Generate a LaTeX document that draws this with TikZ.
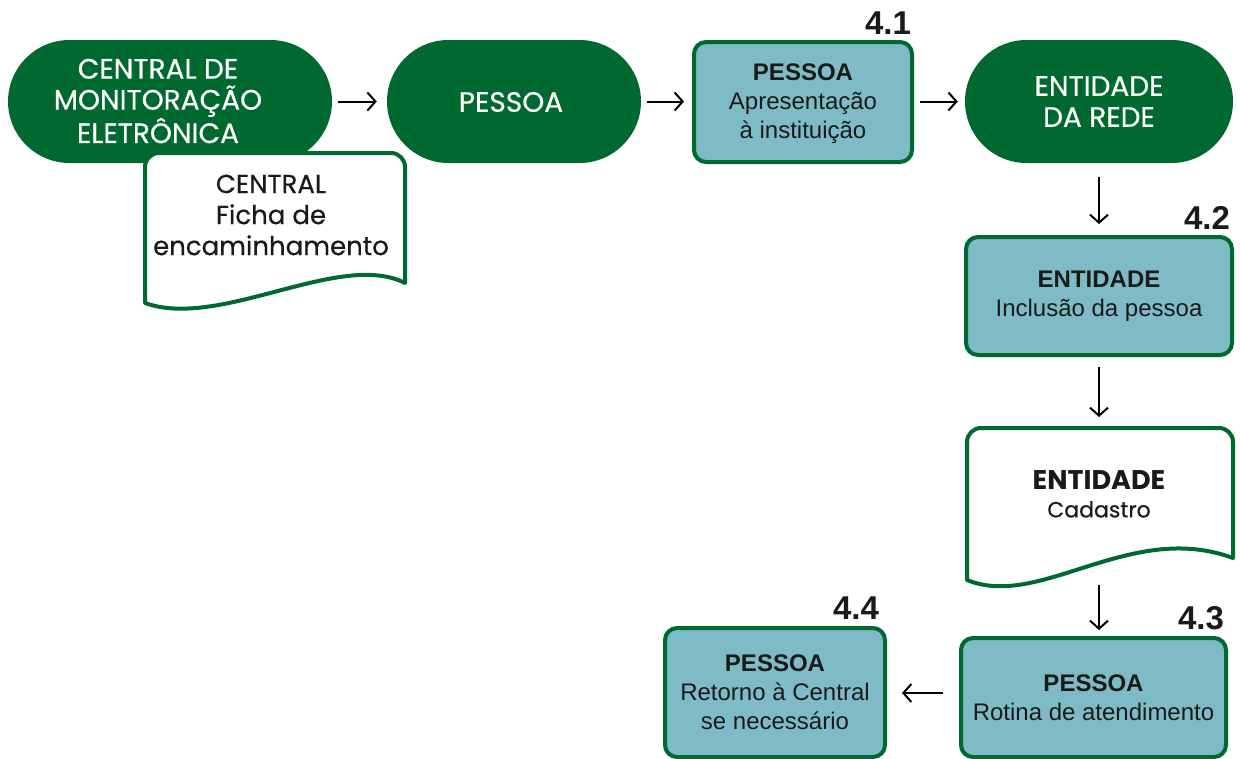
\documentclass[tikz,border=0pt]{standalone}
\usepackage{fontspec}
\usetikzlibrary{shapes.misc,arrows.meta}
\newfontfamily\mont{Poppins}[FakeBold=0.5]
\newfontfamily\montb{Poppins}[UprightFont=*-Bold]
\newfontfamily\robo{Liberation Sans}
\definecolor{dgreen}{HTML}{00692F}
\definecolor{lblue}{HTML}{7FBBC6}
\definecolor{ink}{HTML}{1A1A1A}
\tikzset{
  x=1pt,y=-1pt,
  stad/.style={rounded rectangle, fill=dgreen, text=white, font=\mont\fontsize{28}{31}\selectfont, align=center, inner sep=0pt},
  stadtext/.style={text=white, font=\mont\fontsize{28}{31}\selectfont, align=center, inner sep=0pt},
  bluebox/.style={rectangle, rounded corners=12, draw=dgreen, line width=4pt, fill=lblue, text=ink, font=\robo\fontsize{24}{29}\selectfont, align=center, inner sep=0pt},
  doctext/.style={text=ink, font=\mont\fontsize{26}{31}\selectfont, align=center, inner sep=0pt},
  docline/.style={draw=dgreen, line width=4pt, fill=white, line join=round},
  steplabel/.style={font=\robo\bfseries\fontsize{33}{33}\selectfont, text=ink, inner sep=0pt},
  arr/.style={-{Straight Barb[length=8pt,width=18pt,line width=2pt]}, line width=2pt, black},
}
\begin{document}
\begin{tikzpicture}
\useasboundingbox (0,0) rectangle (1240,758);
% top row
\node[stad, minimum width=324, minimum height=123] (s1) at (170,101.5) {};
\node[stadtext] (s1t) at (158,101) {CENTRAL DE\\MONITORAÇÃO\\ELETRÔNICA};
\node[stad, minimum width=254, minimum height=123] (s2) at (514,101.5) {};
\node[stadtext] (s2t) at (511,102) {PESSOA};
\node[bluebox, minimum width=218, minimum height=120] (b41) at (803,102) {};
\node[text=ink, font=\robo\fontsize{24}{29}\selectfont, align=center, inner sep=0pt] (b41t) at (803,104) {\textbf{PESSOA}\\Apresentação\\à instituição};
\node[stad, minimum width=268, minimum height=123] (s3) at (1099,101.5) {ENTIDADE\\DA REDE};
\node[steplabel] (l41) at (888,23) {4.1};
% document 1
\draw[docline] (145,303) [rounded corners=14] -- (145,153) -- (405,153) [sharp corners] -- (405,283)
   .. controls (340,250) and (220,330) .. (145,303) -- cycle;
\node[doctext] (d1) at (271,215) {CENTRAL\\Ficha de\\encaminhamento};
% right column
\node[steplabel] (l42) at (1207,218) {4.2};
\node[bluebox, minimum width=266, minimum height=118] (b42) at (1099,296) {\textbf{ENTIDADE}\\Inclusão da pessoa};
\draw[docline] (967,580) [rounded corners=14] -- (967,428) -- (1233,428) [sharp corners] -- (1233,558)
   .. controls (1130,520) and (1040,610) .. (967,580) -- cycle;
\node[doctext, font=\mont\fontsize{22}{28}\selectfont] (d2) at (1099,494) {{\montb\fontsize{27}{28}\selectfont ENTIDADE}\\Cadastro};
\coordinate (d2b) at (1099,585);
\node[steplabel] (l43) at (1201,618) {4.3};
\node[bluebox, minimum width=265, minimum height=119] (b43) at (1093.5,697.5) {\textbf{PESSOA}\\Rotina de atendimento};
\node[steplabel] (l44) at (856,608) {4.4};
\node[bluebox, minimum width=220, minimum height=129] (b44) at (775,692.5) {\textbf{PESSOA}\\Retorno à Central\\se necessário};
% arrows
\draw[arr, shorten <=6pt, shorten >=10pt] (s1.east) -- (s2.west);
\draw[arr, shorten <=6pt, shorten >=8pt] (s2.east) -- (s2.east -| b41.west);
\draw[arr, shorten <=6pt, shorten >=7pt] (b41.east |- s3.west) -- (s3.west);
\draw[arr, shorten <=14pt, shorten >=11pt] (s3.south) -- (b42.north);
\draw[arr, shorten <=10pt, shorten >=11pt] (b42.south) -- (d2.north |- 0,428);
\draw[arr, shorten >=6pt] (d2b) -- (b43.north -| d2b);
\draw[arr, shorten <=16pt, shorten >=15pt] ([yshift=4.5pt]b43.west) -- ([yshift=4.5pt]b43.west -| b44.east);
\end{tikzpicture}
\end{document}
